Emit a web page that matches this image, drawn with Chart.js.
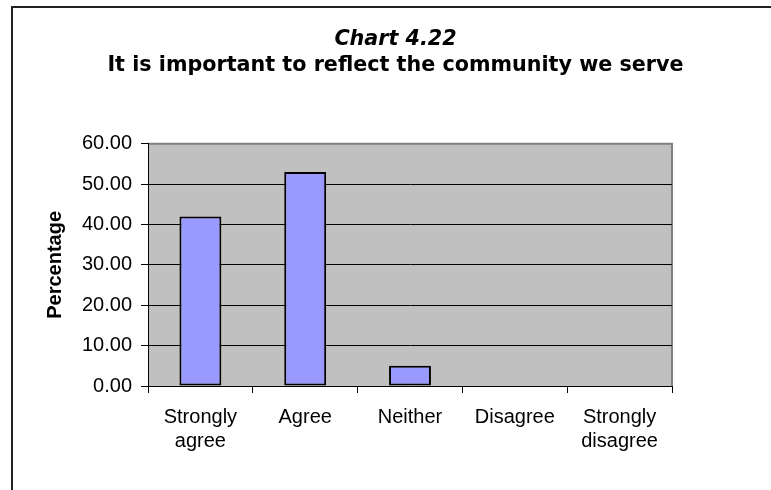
<!DOCTYPE html>
<html>
<head>
<meta charset="utf-8">
<script src="https://cdn.jsdelivr.net/npm/chart.js@4.4.0/dist/chart.umd.min.js"></script>
<style>
  html, body { margin: 0; padding: 0; background: #fff; overflow: hidden; }
  #wrap { width: 771px; height: 490px; }
</style>
</head>
<body>
<div id="wrap"><canvas id="chart" width="771" height="490"></canvas></div>
<script>
const chartTitle = "Chart 4.22";
const chartSubtitle = "It is important to reflect the community we serve";
const yAxisLabel = "Percentage";

const categories = [["Strongly", "agree"], "Agree", "Neither", "Disagree", ["Strongly", "disagree"]];
const percentages = [42.0, 53.0, 5.0, 0, 0];
const yTicks = [0, 10, 20, 30, 40, 50, 60];

Chart.defaults.font.family = "'Liberation Sans', Arial, sans-serif";
Chart.defaults.font.size = 20;
Chart.defaults.color = "#000";

// grey plot background + outer frame of the chart object
const plotFrame = {
  id: "plotFrame",
  beforeDraw(chart) {
    const { ctx, chartArea: a } = chart;
    ctx.save();
    ctx.fillStyle = "#c0c0c0";
    ctx.fillRect(a.left, a.top, a.right - a.left, a.bottom - a.top);
    ctx.strokeStyle = "#808080";
    ctx.lineWidth = 2;
    ctx.beginPath();
    ctx.moveTo(a.left, a.top);
    ctx.lineTo(a.right, a.top);
    ctx.lineTo(a.right, a.bottom);
    ctx.stroke();
    ctx.strokeStyle = "#222";
    ctx.strokeRect(12, 7, chart.width + 50, chart.height + 50);
    ctx.restore();
  }
};

new Chart(document.getElementById("chart"), {
  type: "bar",
  data: {
    labels: categories,
    datasets: [{
      data: percentages,
      backgroundColor: "#9999ff",
      borderColor: "#000",
      borderWidth: c => (c.raw === 0 ? 0 : 2),
      borderSkipped: false,
      categoryPercentage: 1,
      barPercentage: 0.4
    }]
  },
  options: {
    responsive: false,
    animation: false,
    layout: { padding: { left: 20, right: 0, top: 0, bottom: 0 } },
    plugins: {
      legend: { display: false },
      tooltip: { enabled: false },
      title: {
        display: true,
        text: chartTitle,
        color: "#000",
        font: { family: "'DejaVu Sans', sans-serif", size: 20.7, weight: "bold", style: "italic" },
        padding: { top: 27, bottom: 0 }
      },
      subtitle: {
        display: true,
        text: chartSubtitle,
        color: "#000",
        font: { family: "'DejaVu Sans', sans-serif", size: 20.7, weight: "bold" },
        padding: { top: 1.5, bottom: 65.5 }
      }
    },
    scales: {
      x: {
        grid: { display: true, drawOnChartArea: false, drawTicks: true, tickLength: 7, tickColor: "#000", offset: true },
        border: { color: "#000", width: 1 },
        ticks: { padding: 12, maxRotation: 0, autoSkip: false },
        afterFit: s => { s.height = 104; }
      },
      y: {
        min: yTicks[0],
        max: yTicks[yTicks.length - 1],
        afterBuildTicks: s => { s.ticks = yTicks.map(v => ({ value: v })); },
        grid: {
          color: c => (c.tick && c.tick.value === yTicks[yTicks.length - 1] ? "#808080" : "#000"),
          tickColor: "#000",
          tickLength: 7
        },
        border: { color: "#000", width: 1 },
        ticks: { padding: 9, callback: v => Number(v).toFixed(2) },
        title: {
          display: true,
          text: yAxisLabel,
          font: { size: 20, weight: "bold" },
          padding: { top: 23.5, bottom: 0 }
        },
        afterFit: s => { s.width = 128; }
      },
      spacer: {
        type: "linear",
        position: "right",
        display: true,
        grid: { display: false },
        border: { display: false },
        ticks: { display: false },
        afterFit: s => { s.width = 99; }
      }
    }
  },
  plugins: [plotFrame]
});
</script>
</body>
</html>
